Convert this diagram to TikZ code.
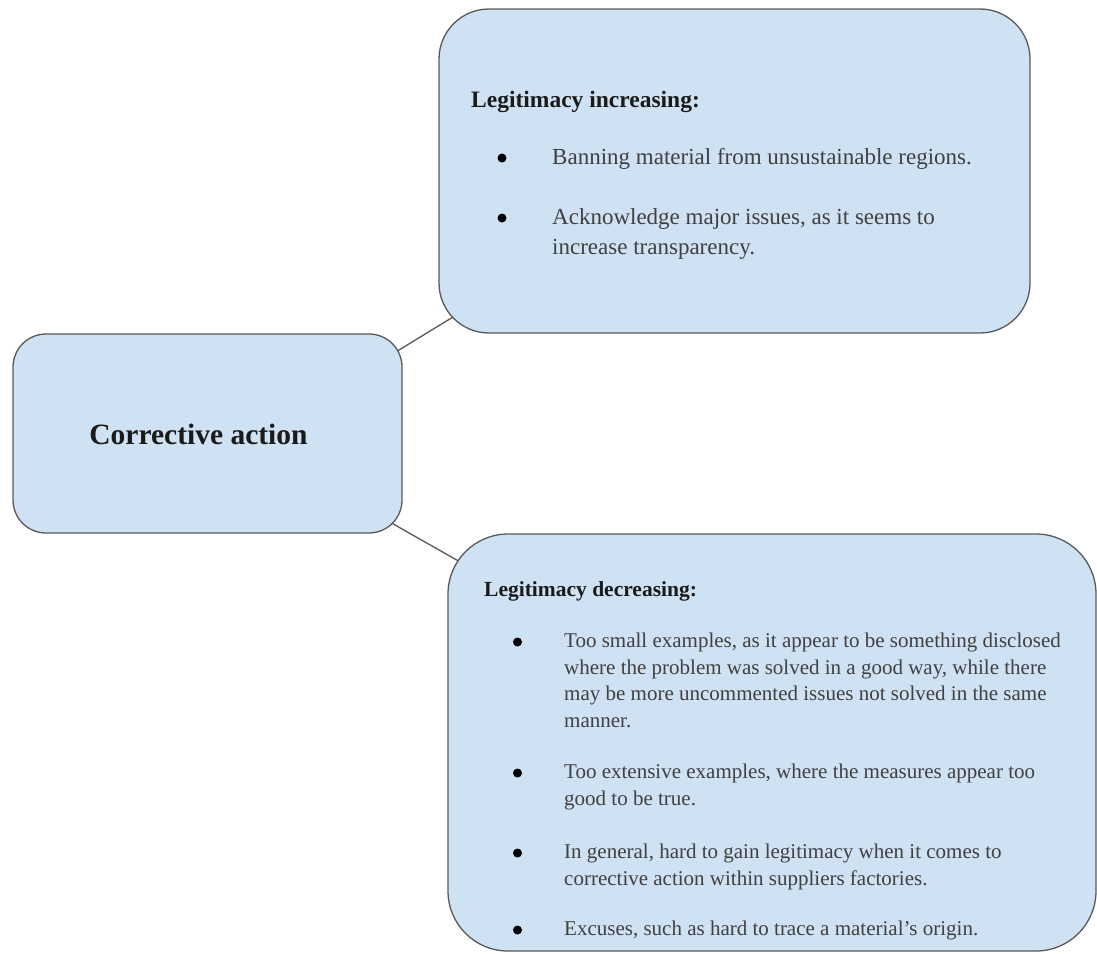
\documentclass[tikz,border=0pt]{standalone}
\usepackage{fontspec}
\setmainfont{Liberation Serif}
\usetikzlibrary{calc,backgrounds}
\definecolor{boxfill}{HTML}{CFE2F3}
\definecolor{boxline}{HTML}{595959}
\definecolor{bodygray}{HTML}{404040}
\definecolor{titleblack}{HTML}{1A1A1A}
\tikzset{
  panel/.style={draw=boxline, fill=boxfill, line width=1.3pt, inner sep=0pt, outer sep=0pt},
  link/.style={draw=boxline, line width=1.3pt},
  dot/.style={circle, fill=black, inner sep=0pt, minimum size=9pt},
  ttitle/.style={anchor=base west, inner sep=0pt, text=titleblack, font=\fontsize{23.5}{27}\selectfont\bfseries},
  btitle/.style={anchor=base west, inner sep=0pt, text=titleblack, font=\fontsize{21.5}{25}\selectfont\bfseries},
  tbody/.style={anchor=base west, inner sep=0pt, text=bodygray, font=\fontsize{23}{27}\selectfont},
  bbody/.style={anchor=base west, inner sep=0pt, text=bodygray, font=\fontsize{21}{25}\selectfont},
  maintext/.style={anchor=base, inner sep=0pt, text=titleblack, font=\fontsize{29.5}{34}\selectfont\bfseries}
}
\begin{document}
\begin{tikzpicture}[x=1pt,y=1pt]
\useasboundingbox (0,0) rectangle (1097,-953);
% boxes
\node[panel, rounded corners=50pt, minimum width=591pt, minimum height=324pt] (top) at (734.5,-171) {};
\node[panel, rounded corners=33pt, minimum width=389pt, minimum height=199pt] (left) at (207.5,-433.5) {};
\node[panel, rounded corners=60pt, minimum width=648pt, minimum height=417pt] (bottom) at (772,-742.5) {};
% connectors (drawn under the boxes)
\coordinate (c1a) at ($(left.north east)+(-14,-22.7)$);
\coordinate (c1b) at ($(top.south west)+(31,26.4)$);
\coordinate (c2a) at ($(left.south east)+(-17,13.7)$);
\coordinate (c2b) at ($(bottom.north west)+(27,-36.4)$);
\begin{pgfonlayer}{background}
\draw[link] (c1a) -- (c1b);
\draw[link] (c2a) -- (c2b);
\end{pgfonlayer}
% main node text
\node[maintext] (ca) at (198.5,-444) {Corrective action};
% top box text
\node[ttitle] (t0) at (471,-107) {Legitimacy increasing:};
\node[dot] (tb1) at (502,-158) {};
\node[tbody] (t1) at (552,-164) {Banning material from unsustainable regions.};
\node[dot] (tb2) at (502,-218) {};
\node[tbody] (t2) at (552,-224) {Acknowledge major issues, as it seems to};
\node[tbody] (t3) at (552,-254) {increase transparency.};
% bottom box text
\node[btitle] (b0) at (484,-596) {Legitimacy decreasing:};
\node[dot] (bb1) at (517.5,-642) {};
\node[bbody] (b1) at (564,-647) {Too small examples, as it appear to be something disclosed};
\node[bbody] (b2) at (564,-674) {where the problem was solved in a good way, while there};
\node[bbody] (b3) at (564,-700.5) {may be more uncommented issues not solved in the same};
\node[bbody] (b4) at (564,-727) {manner.};
\node[dot] (bb2) at (517.5,-773) {};
\node[bbody] (b5) at (564,-778) {Too extensive examples, where the measures appear too};
\node[bbody] (b6) at (564,-805) {good to be true.};
\node[dot] (bb3) at (517.5,-853) {};
\node[bbody] (b7) at (564,-858) {In general, hard to gain legitimacy when it comes to};
\node[bbody] (b8) at (564,-885) {corrective action within suppliers factories.};
\node[dot] (bb4) at (517.5,-930) {};
\node[bbody] (b9) at (564,-935) {Excuses, such as hard to trace a material's origin.};
\end{tikzpicture}
\end{document}
